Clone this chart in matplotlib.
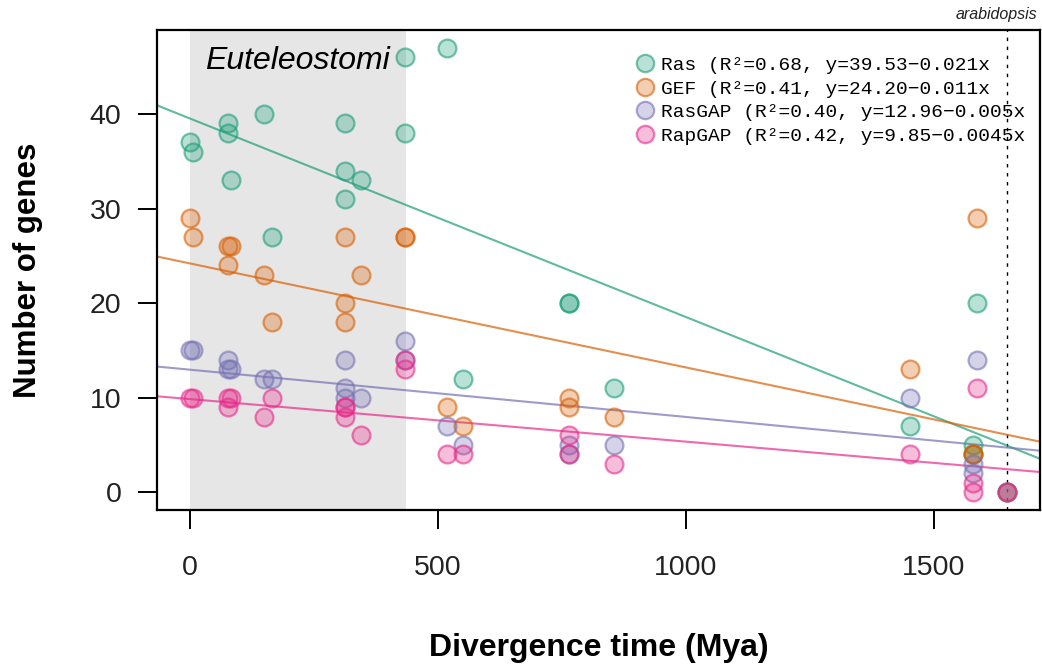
import matplotlib
matplotlib.use('Agg')
import matplotlib.pyplot as plt
from matplotlib.lines import Line2D
import numpy as np

# --- data ---
ras_x = [1, 7, 77, 77, 84, 149, 165, 312, 312, 312, 346, 433, 433, 518, 551,
         764, 764, 856, 1452, 1578, 1578, 1587, 1648]
ras_y = [37, 36, 39, 38, 33, 40, 27, 39, 34, 31, 33, 46, 38, 47, 12,
         20, 20, 11, 7, 5, 4, 20, 0]

gef_x = [1, 7, 77, 77, 84, 149, 165, 312, 312, 312, 346, 433, 433, 518, 551,
         764, 764, 856, 1452, 1578, 1578, 1587, 1648]
gef_y = [29, 27, 26, 24, 26, 23, 18, 27, 20, 18, 23, 27, 27, 9, 7,
         10, 9, 8, 13, 4, 4, 29, 0]

rasgap_x = [1, 7, 77, 77, 84, 149, 165, 312, 312, 312, 346, 433, 433, 518, 551,
            764, 764, 856, 1452, 1578, 1578, 1587, 1648]
rasgap_y = [15, 15, 14, 13, 13, 12, 12, 14, 11, 10, 10, 16, 14, 7, 5,
            5, 4, 5, 10, 3, 2, 14, 0]

rapgap_x = [1, 7, 77, 77, 84, 149, 165, 312, 312, 312, 346, 433, 433, 518, 551,
            764, 764, 856, 1452, 1578, 1578, 1587, 1648]
rapgap_y = [10, 10, 10, 9, 10, 8, 10, 9, 9, 8, 6, 14, 13, 4, 4,
            6, 4, 3, 4, 1, 0, 11, 0]

names      = ['Ras', 'GEF', 'RasGAP', 'RapGAP']
r2         = [0.68, 0.41, 0.40, 0.42]
intercepts = [39.53, 24.20, 12.96, 9.85]
slopes     = [0.021, 0.011, 0.005, 0.0045]
slope_txt  = ['0.021', '0.011', '0.005', '0.0045']

euteleostomi_end = 435
arabidopsis_x = 1648

colors = ['#1B9E77', '#D95F02', '#7570B3', '#E7298A']

xs = [ras_x, gef_x, rasgap_x, rapgap_x]
ys = [ras_y, gef_y, rasgap_y, rapgap_y]

fig = plt.figure(figsize=(10.42, 6.67), dpi=100)
ax = fig.add_axes([0.1507, 0.2354, 0.8474, 0.7196])

xlim = (-66, 1714)
ax.set_xlim(*xlim)
ax.set_ylim(-1.88, 48.88)

ax.axvspan(0, euteleostomi_end, color='#e6e6e6', lw=0, zorder=0)
ax.axvline(arabidopsis_x, color='black', lw=1, ls=(0, (2.5, 4)), zorder=1)

handles = []
for x, y, c, n, r, a, b, st in zip(xs, ys, colors, names, r2, intercepts, slopes, slope_txt):
    rgb = matplotlib.colors.to_rgb(c)
    ax.scatter(x, y, s=165, facecolor=rgb + (0.3,), edgecolor=rgb + (0.6,),
               linewidth=1.6, zorder=3)
    lx = np.array(xlim)
    ax.plot(lx, a - b * lx, color=c, alpha=0.7, lw=1.5, zorder=2)
    lab = f'{n} (R\u00b2=%.2f, y=%.2f\u2212{st}x' % (r, a)
    handles.append(Line2D([], [], ls='none', marker='o', markersize=12.5,
                          markerfacecolor=rgb + (0.3,), markeredgecolor=rgb + (0.6,),
                          markeredgewidth=1.6, label=lab))

ax.legend(handles=handles, loc='upper left', bbox_to_anchor=(0.526, 0.977),
          frameon=False, prop={'family': ['Liberation Mono', 'DejaVu Sans Mono'], 'size': 14},
          handlelength=0.8, handletextpad=0.45, labelspacing=0.30, borderaxespad=0.4)

ax.text(0.159, 0.935, 'Euteleostomi', transform=ax.transAxes, fontsize=23,
        style='italic', family='Liberation Sans', ha='center', va='center')
fig.text(1037 / 1042, 1 - 15 / 667, 'arabidopsis', fontsize=11.5, style='italic',
         family='Liberation Sans', ha='right', va='center', color='#222222')

ax.set_xticks([0, 500, 1000, 1500])
ax.set_yticks([0, 10, 20, 30, 40])
ax.tick_params(length=13.5, width=1.4, labelsize=20.5)
ax.tick_params(axis='x', pad=19)
ax.tick_params(axis='y', pad=12)
for lbl in ax.get_xticklabels() + ax.get_yticklabels():
    lbl.set_family('Liberation Sans')
    lbl.set_color('#222222')
for sp in ax.spines.values():
    sp.set_linewidth(1.6)

fig.text(599 / 1042, 1 - 648 / 667, 'Divergence time (Mya)', fontsize=23,
         fontweight='bold', family='Liberation Sans', ha='center', va='center')
fig.text(28 / 1042, 1 - 270 / 667, 'Number of genes', fontsize=22.5, rotation=90,
         fontweight='bold', family='Liberation Sans', ha='center', va='center')

fig.savefig('out.png', dpi=100)
